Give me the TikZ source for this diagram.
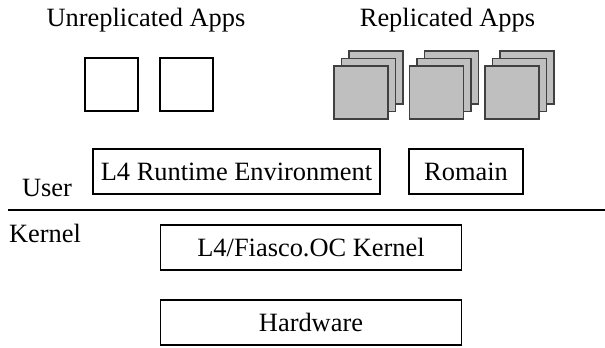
\documentclass[tikz,border=0pt]{standalone}
\usepackage{fontspec}
\setmainfont{Liberation Serif}
\usepackage{tikz}

\begin{document}
\begin{tikzpicture}[x=1pt,y=-1pt,
    font=\fontsize{26.4}{30}\selectfont,
    layer/.style={draw,line width=1.1pt,inner sep=0pt},
    app/.style={draw,line width=1.1pt,minimum width=53pt,minimum height=53pt,inner sep=0pt},
    replica/.style={draw=black!75,line width=1.4pt,fill=black!25,minimum width=54pt,minimum height=53pt,inner sep=0pt}]
  \useasboundingbox (0,0) rectangle (605,348);
   \node[anchor=base] (Unrep) at (146,27) {Unreplicated Apps};
   \node[anchor=base] (Rep) at (447.5,27) {Replicated Apps};
   \node[app] (AppOne) at (111.5,84.5) {};
   \node[app] (AppTwo) at (186.5,84.5) {};
  \foreach \i in {0,1,2}{% three stacks of replicas
    \node[replica] (Back\i) at (376+75.5*\i,77.5) {};
    \node[replica] (Mid\i) at (368.5+75.5*\i,85) {};
    \node[replica] (Front\i) at (361+75.5*\i,92.5) {};
    }
   \node[layer,minimum width=287pt,minimum height=45pt] (Rte) at (236.5,171.5) {L4 Runtime Environment};
   \node[layer,minimum width=114pt,minimum height=45pt] (Romain) at (466,171.5) {Romain};
   \node[anchor=base] (User) at (47,196) {User};
   \coordinate (SepL) at (8,209.5);
   \coordinate (SepR) at (605,209.5);
  \draw[line width=2pt] (SepL) -- (SepR);
   \node[anchor=base] (Kernel) at (45,242) {Kernel};
   \node[layer,minimum width=301pt,minimum height=45pt] (Fiasco) at (311,247.5) {L4/Fiasco.OC Kernel};
   \node[layer,minimum width=301pt,minimum height=45pt] (Hw) at (311,322.5) {Hardware};
\end{tikzpicture}
\end{document}
